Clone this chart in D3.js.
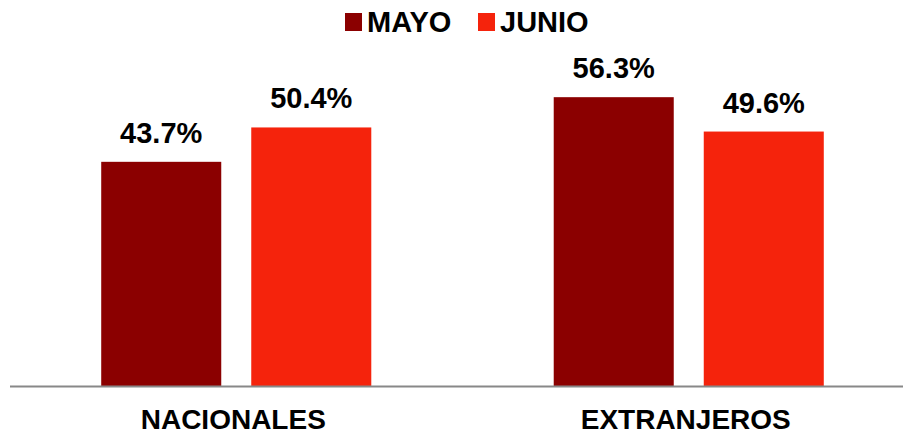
<!DOCTYPE html>
<html>
<head>
<meta charset="utf-8">
<script src="https://cdn.jsdelivr.net/npm/d3@7"></script>
<style>
  body { margin: 0; background: #fff; }
  text { font-family: "Liberation Sans", Arial, sans-serif; font-weight: bold; fill: #000; }
</style>
</head>
<body>
<script>
// data
var categories = ["NACIONALES", "EXTRANJEROS"];
var series = ["MAYO", "JUNIO"];
var mayo = [43.7, 56.3];
var junio = [50.4, 49.6];

var width = 903, height = 435;
var baseY = 386;

var colors = d3.scaleOrdinal().domain(series).range(["#8b0000", "#f5230c"]);

var svg = d3.select("body").append("svg")
  .attr("width", width)
  .attr("height", height);

// scales
var x0 = d3.scaleBand().domain(categories).range([10, 915]).padding(0);
var x1 = d3.scaleBand().domain(series)
  .range([0, x0.bandwidth()])
  .paddingInner(0.2)
  .paddingOuter(0.608);
var y = d3.scaleLinear().domain([0, 60]).range([baseY, baseY - 60 * 5.13]);

var rows = [];
categories.forEach(function(c, i) {
  rows.push({cat: c, s: "MAYO", v: mayo[i]});
  rows.push({cat: c, s: "JUNIO", v: junio[i]});
});

// bars
svg.selectAll(".bar")
  .data(rows)
  .enter().append("rect")
  .attr("class", "bar")
  .attr("x", function(d) { return x0(d.cat) + x1(d.s); })
  .attr("y", function(d) { return y(d.v); })
  .attr("width", x1.bandwidth())
  .attr("height", function(d) { return y(0) - y(d.v); })
  .style("fill", function(d) { return colors(d.s); });

// value labels
svg.selectAll(".val")
  .data(rows)
  .enter().append("text")
  .attr("class", "val")
  .attr("x", function(d) { return x0(d.cat) + x1(d.s) + x1.bandwidth() / 2; })
  .attr("y", function(d) { return y(d.v) - 19; })
  .attr("text-anchor", "middle")
  .style("font-size", "29px")
  .text(function(d) { return d.v.toFixed(1) + "%"; });

// baseline
svg.append("line")
  .attr("x1", 10).attr("x2", width)
  .attr("y1", baseY + 0.5).attr("y2", baseY + 0.5)
  .style("stroke", "#888")
  .style("stroke-width", 2);

// category labels
svg.selectAll(".cat")
  .data(categories)
  .enter().append("text")
  .attr("class", "cat")
  .attr("x", function(d) { return x0(d) + x0.bandwidth() / 2 - 3; })
  .attr("y", 429)
  .attr("text-anchor", "middle")
  .style("font-size", "28px")
  .text(function(d) { return d; });

// legend
var legendX = [345, 478];
var legend = svg.selectAll(".legend")
  .data(series)
  .enter().append("g")
  .attr("class", "legend")
  .attr("transform", function(d, i) { return "translate(" + legendX[i] + ",13)"; });

legend.append("rect")
  .attr("width", 17)
  .attr("height", 18)
  .style("fill", function(d) { return colors(d); });

legend.append("text")
  .attr("x", 22)
  .attr("y", 19)
  .style("font-size", "29px")
  .text(function(d) { return d; });
</script>
</body>
</html>
